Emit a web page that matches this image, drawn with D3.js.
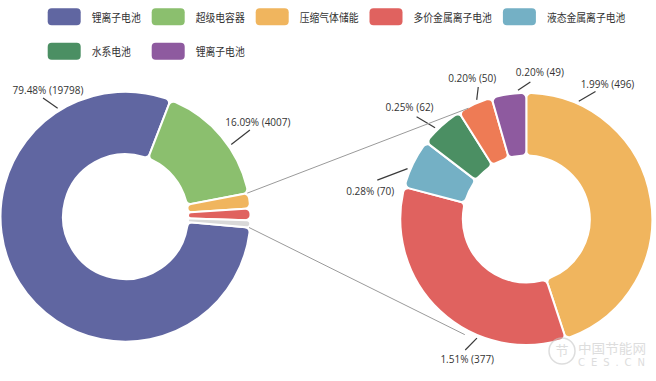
<!DOCTYPE html>
<html>
<head>
<meta charset="utf-8">
<script src="https://cdn.jsdelivr.net/npm/d3@7"></script>
<style>
  html, body { margin: 0; padding: 0; background: #fff; }
  svg { display: block; }
</style>
</head>
<body>
<svg id="chart" width="656" height="381"></svg>
<script>
// ---- data ----
const legendNames = ["锂离子电池", "超级电容器", "压缩气体储能", "多价金属离子电池", "液态金属离子电池", "水系电池", "锂离子电池"];
const legendColors = ["#6066a1", "#8bbf6e", "#f0b55e", "#e0625f", "#74b0c5", "#4b8f63", "#8e5a9f"];

const mainNames = ["锂离子电池", "超级电容器", "压缩气体储能", "多价金属离子电池", "其他"];
const mainValues = [19798, 4007, 496, 377, 231];
const mainColors = ["#6066a1", "#8bbf6e", "#f0b55e", "#e0625f", "#d9d9d9"];

const subNames = ["压缩气体储能", "多价金属离子电池", "液态金属离子电池", "水系电池", "其他", "锂离子电池"];
const subValues = [496, 377, 70, 62, 50, 49];
const subColors = ["#f0b55e", "#e0625f", "#74b0c5", "#4b8f63", "#ee7b55", "#8e5a9f"];

const total = d3.sum(mainValues);

// ---- layout / style ----
const W = 656, H = 381;
const svg = d3.select("#chart");
svg.append("rect").attr("width", W).attr("height", H).attr("fill", "#fff");

const L = { cx: 125.5, cy: 216.7, r: 125, r0: 62.5, start: 95 };
const R = { cx: 526.3, cy: 219, r: 126, r0: 63.5, start: 0 };
const rad = d => d * Math.PI / 180;
const polar = (c, a, r) => [c.cx + r * Math.sin(rad(a)), c.cy - r * Math.cos(rad(a))];

// label layout (style): index -> [lineStartAngle, lineEndAngle, lineEndRadius, dx, dy]
const mainLabelLayout = { 0: [-32, -34.8, 144.5, 5, -8], 1: [55.7, 55.1, 151.7, 8, -8] };
const subLabelLayout = {
  0: [24, 28.5, 145, 12, -8],
  1: [202.5, 205, 144.5, 2, 9],
  2: [-67, -75.4, 154, -7, 11],
  3: [-45, -47, 150, -7, -10],
  4: [-22.6, -20, 140.5, -6, -9],
  5: [-3.7, 1.7, 137, 9.5, -10]
};

function drawDonut(c, values, colors, layout) {
  const pie = d3.pie().sort(null)
    .startAngle(rad(c.start)).endAngle(rad(c.start + 360));
  const arcs = pie(values);
  const arc = d3.arc().innerRadius(c.r0).outerRadius(c.r).cornerRadius(5);
  const g = svg.append("g").attr("transform", `translate(${c.cx},${c.cy})`);
  g.selectAll("path").data(arcs).join("path")
    .attr("d", arc)
    .attr("fill", (d, i) => colors[i])
    .attr("stroke", "#fff")
    .attr("stroke-width", 2)
    .attr("stroke-linejoin", "round");

  Object.keys(layout).forEach(k => {
    const i = +k;
    const [a1, a2, r2, dx, dy] = layout[k];
    const p1 = polar(c, a1, c.r + 3);
    const p2 = polar(c, a2, r2);
    svg.append("line")
      .attr("x1", p1[0]).attr("y1", p1[1]).attr("x2", p2[0]).attr("y2", p2[1])
      .attr("stroke", "#3a3a3a").attr("stroke-width", 1.2);
    const pct = (values[i] / total * 100).toFixed(2) + "% (" + values[i] + ")";
    svg.append("text")
      .attr("x", p2[0] + dx).attr("y", p2[1] + dy)
      .attr("text-anchor", "middle")
      .attr("dominant-baseline", "central")
      .attr("font-family", "'Open Sans', 'Noto Sans', sans-serif")
      .attr("font-size", 10)
      .attr("fill", "#333")
      .text(pct);
  });
  return arcs;
}

const mainArcs = drawDonut(L, mainValues, mainColors, mainLabelLayout);
drawDonut(R, subValues, subColors, subLabelLayout);

// connector lines between the "other" group on the left and the breakdown donut
const groupStart = mainArcs[2].startAngle * 180 / Math.PI;
const groupEnd = mainArcs[4].endAngle * 180 / Math.PI;
const connectors = [[groupStart, -27.6, 125], [groupEnd, 208, 131]];
connectors.forEach(([aL, aR, rR]) => {
  const p1 = polar(L, aL, L.r - 1);
  const p2 = polar(R, aR, rR);
  svg.append("line")
    .attr("x1", p1[0]).attr("y1", p1[1]).attr("x2", p2[0]).attr("y2", p2[1])
    .attr("stroke", "#9a9a9a").attr("stroke-width", 1);
});

// ---- legend ----
const legendRows = [[0, 1, 2, 3, 4], [5, 6]];
const charW = 9.8;
const colX = [];
let x = 47.7;
legendRows[0].forEach((i, j) => {
  colX[j] = x;
  x += 33 + 11 + legendNames[i].length * charW + 11;
});
const rowY = [16.7, 51.3];
legendRows.forEach((row, ri) => {
  row.forEach((i, j) => {
    const gx = colX[j];
    svg.append("rect")
      .attr("x", gx).attr("y", rowY[ri] - 8.5)
      .attr("width", 33).attr("height", 17)
      .attr("rx", 4).attr("ry", 4)
      .attr("fill", legendColors[i]);
    svg.append("text")
      .attr("x", gx + 44).attr("y", rowY[ri])
      .attr("dominant-baseline", "central")
      .attr("font-family", "'Noto Sans CJK SC', sans-serif")
      .attr("font-size", 11.5)
      .attr("fill", "#333")
      .attr("textLength", legendNames[i].length * charW)
      .attr("lengthAdjust", "spacingAndGlyphs")
      .text(legendNames[i]);
  });
});

// ---- watermark ----
const wm = svg.append("g").attr("opacity", 0.6);
wm.append("circle").attr("cx", 562).attr("cy", 351).attr("r", 13)
  .attr("fill", "none").attr("stroke", "#c8c8c8").attr("stroke-width", 1.5);
wm.append("text").attr("x", 562).attr("y", 355).attr("text-anchor", "middle")
  .attr("font-family", "'Noto Sans CJK SC', sans-serif").attr("font-size", 13)
  .attr("fill", "#c8c8c8").text("节");
wm.append("text").attr("x", 578).attr("y", 347).attr("dominant-baseline", "central")
  .attr("font-family", "'Noto Sans CJK SC', sans-serif").attr("font-size", 13)
  .attr("fill", "#c8c8c8").attr("textLength", 68).attr("lengthAdjust", "spacingAndGlyphs")
  .text("中国节能网");
wm.append("text").attr("x", 578).attr("y", 362).attr("dominant-baseline", "central")
  .attr("font-family", "'DejaVu Sans', sans-serif").attr("font-size", 10)
  .attr("fill", "#c8c8c8").attr("textLength", 67).attr("lengthAdjust", "spacing")
  .text("CES.CN");
</script>
</body>
</html>
